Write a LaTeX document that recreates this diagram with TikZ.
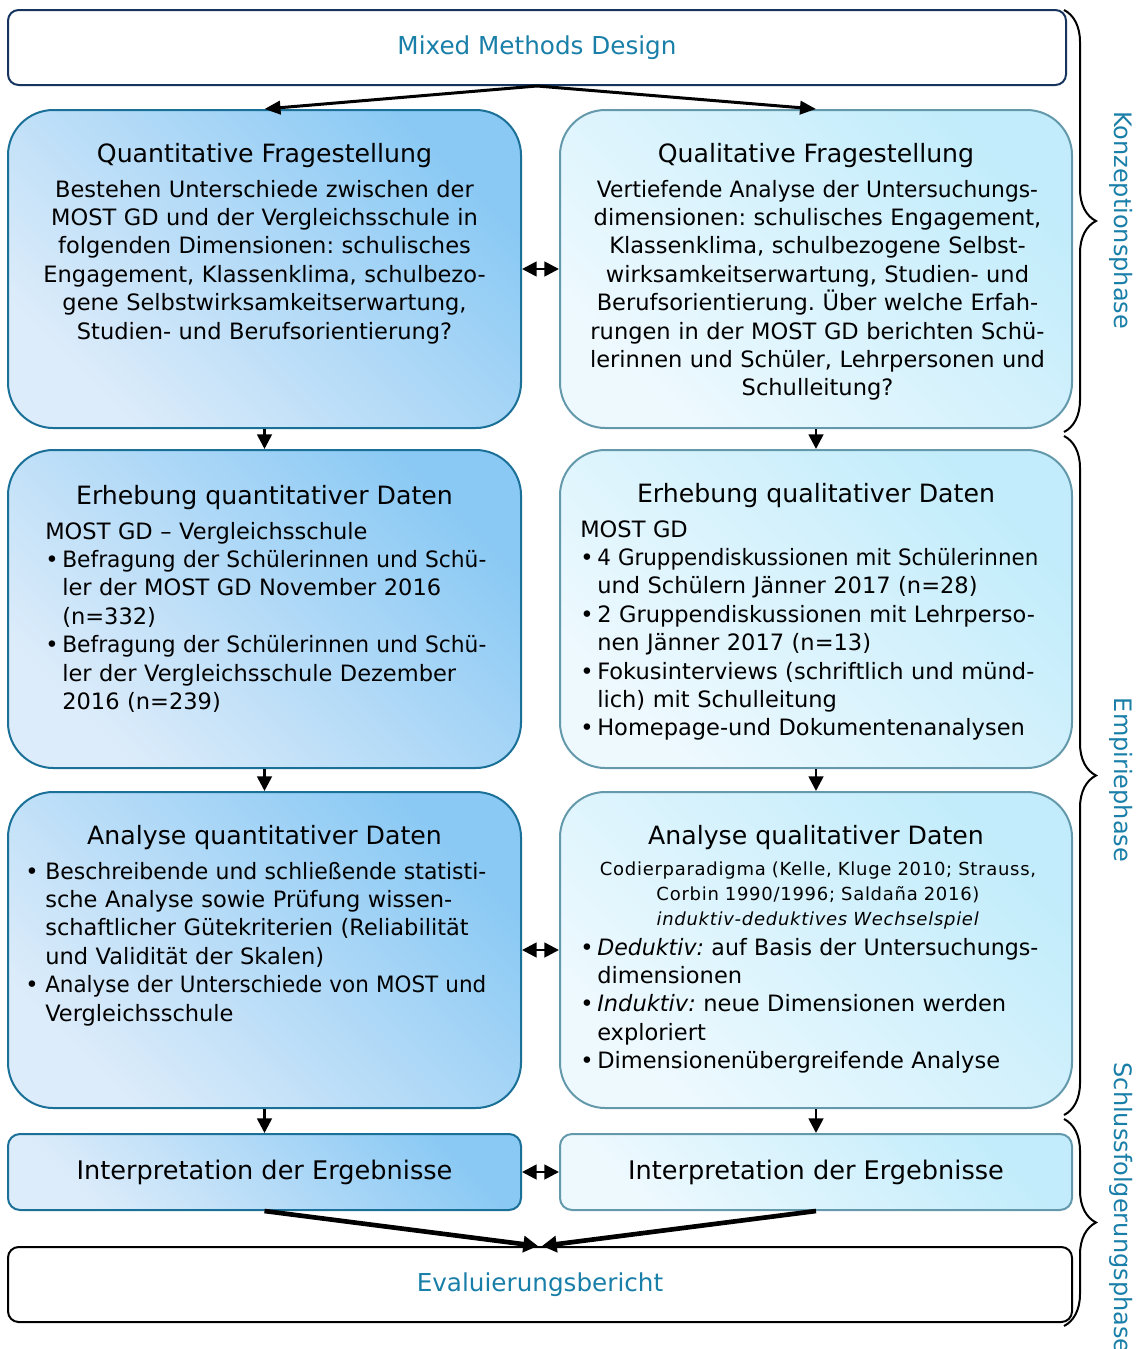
\documentclass[tikz,border=0pt]{standalone}
\usepackage{fontspec}
\usepackage{graphicx}
\setmainfont{DejaVu Sans}
\newfontfamily\spacedfont[LetterSpace=4]{DejaVu Sans}
\usetikzlibrary{arrows.meta,decorations.pathreplacing}
\definecolor{tealtxt}{RGB}{26,127,168}
\definecolor{navy}{RGB}{22,52,94}
\definecolor{qborder}{RGB}{27,112,152}
\definecolor{qdark}{RGB}{138,201,244}
\definecolor{qlight}{RGB}{221,236,250}
\definecolor{rborder}{RGB}{100,153,172}
\definecolor{rdark}{RGB}{194,236,251}
\definecolor{rlight}{RGB}{238,249,254}
\setlength\parskip{0pt}
\frenchspacing
\newsavebox\jbox
\newcommand\bitem[2]{\hangindent=#1\hangafter=1\noindent\makebox[#1][l]{\textbullet}#2\par}
\newcommand\jline[2][330.75pt]{\sbox\jbox{#2}\ifdim\wd\jbox>#1\resizebox{#1}{\ht\jbox}{\usebox\jbox}\else\makebox[#1][s]{#2}\fi}
\begin{document}
\begin{tikzpicture}[x=0.75pt,y=-0.75pt,
  qbox/.style={draw=qborder, line width=1.5pt, rounded corners=34pt, top color=qdark, bottom color=qlight, shading angle=-45, inner sep=0pt, minimum width=384.75pt},
  rbox/.style={draw=rborder, line width=1.5pt, rounded corners=34pt, top color=rdark, bottom color=rlight, shading angle=-45, inner sep=0pt, minimum width=384pt},
  tallbox/.style={minimum height=238.5pt},
  smallbox/.style={rounded corners=9pt, minimum height=57pt, font=\fontsize{19.2}{22}\selectfont},
  framebox/.style={draw, line width=1.5pt, rounded corners=8pt, minimum height=56.25pt, text=tealtxt, font=\fontsize{18.5}{22}\selectfont, inner sep=0pt},
  ttl/.style={font=\fontsize{18.9}{22}\selectfont, inner sep=0pt},
  bodyc/.style={font=\fontsize{16.9}{21.3}\selectfont, align=center, inner sep=0pt},
  bodyl/.style={font=\fontsize{16.9}{21.3}\selectfont, align=left, inner sep=0pt},
  smalltxt/.style={font=\spacedfont\fontsize{13.5}{18.75}\selectfont, align=center, inner sep=0pt},
  arr/.style={line width=2pt, -{Triangle[length=11pt,width=11pt]}},
  darr/.style={line width=2pt, {Triangle[length=11pt,width=11pt]}-{Triangle[length=11pt,width=11pt]}},
  farr/.style={line width=2.25pt, -{Triangle[length=12pt,width=10pt]}},
  barr/.style={line width=3.5pt, -{Triangle[length=11pt,width=12pt]}},
  brc/.style={decorate, decoration={brace, amplitude=24pt}, line width=1.5pt},
  phase/.style={text=tealtxt, font=\fontsize{18}{22}\selectfont, rotate=-90, inner sep=0pt}
]
\useasboundingbox (0,0) rectangle (1137,1349);

% frame boxes
\node[framebox, draw=navy, minimum width=793.5pt] (top) at (537,47.5) {Mixed Methods Design};
\node[framebox, draw=black, minimum width=798pt] (bot) at (540,1284.5) {Evaluierungsbericht};

% big boxes
\node[qbox, tallbox] (q1) at (264.5,269) {};
\node[rbox, tallbox] (r1) at (816,269) {};
\node[qbox, tallbox] (q2) at (264.5,609) {};
\node[rbox, tallbox] (r2) at (816,609) {};
\node[qbox, minimum height=237pt] (q3) at (264.5,950) {};
\node[rbox, minimum height=237pt] (r3) at (816,950) {};
\node[qbox, smallbox] (q4) at (264.5,1172) {Interpretation der Ergebnisse};
\node[rbox, smallbox] (r4) at (816,1172) {Interpretation der Ergebnisse};

% row 1 texts
\node[ttl, anchor=base] (q1t) at (264.5,162) {Quantitative Fragestellung};
\node[bodyc, anchor=base, text width=372pt] (q1b) at (264.5,197) {Bestehen Unterschiede zwischen der\\MOST GD und der Vergleichsschule in\\folgenden Dimensionen: schulisches\\Engagement, Klassenklima, schulbezo-\\gene Selbstwirksamkeitserwartung,\\Studien- und Berufsorientierung?};
\node[ttl, anchor=base] (r1t) at (816,162) {Qualitative Fragestellung};
\node[bodyc, anchor=base, text width=372pt] (r1b) at (817.5,197) {\jline{Vertiefende Analyse der Untersuchungs-}\\dimensionen: schulisches Engagement,\\Klassenklima, schulbezogene Selbst-\\wirksamkeitserwartung, Studien- und\\Berufsorientierung. Über welche Erfah-\\rungen in der MOST GD berichten Schü-\\lerinnen und Schüler, Lehrpersonen und\\Schulleitung?};

% row 2 texts
\node[ttl, anchor=base] (q2t) at (264.5,504) {Erhebung quantitativer Daten};
\node[bodyl, anchor=base west, text width=360pt] (q2b) at (45,539) {MOST GD – Vergleichsschule\par
\bitem{12.75pt}{\jline[318pt]{Befragung der Schülerinnen und Schü-}\newline ler der MOST GD November 2016\newline (n=332)}
\bitem{12.75pt}{\jline[318pt]{Befragung der Schülerinnen und Schü-}\newline ler der Vergleichsschule Dezember\newline 2016 (n=239)}};
\node[ttl, anchor=base] (r2t) at (816,502) {Erhebung qualitativer Daten};
\node[bodyl, anchor=base west, text width=360pt] (r2b) at (580,537) {MOST GD\par
\bitem{12.75pt}{\jline{4 Gruppendiskussionen mit Schülerinnen}\newline und Schülern Jänner 2017 (n=28)}
\bitem{12.75pt}{\jline{2 Gruppendiskussionen mit Lehrperso-}\newline nen Jänner 2017 (n=13)}
\bitem{12.75pt}{\jline{Fokusinterviews (schriftlich und münd-}\newline lich) mit Schulleitung}
\bitem{12.75pt}{Homepage-und Dokumentenanalysen}};

% row 3 texts
\node[ttl, anchor=base] (q3t) at (264.5,844) {Analyse quantitativer Daten};
\node[bodyl, anchor=base west, text width=360pt] (q3b) at (25,879) {\bitem{15pt}{\jline{Beschreibende und schließende statisti-}\newline \jline{sche Analyse sowie Prüfung wissen-}\newline \jline{schaftlicher Gütekriterien (Reliabilität}\newline und Validität der Skalen)}
\bitem{15pt}{\jline{Analyse der Unterschiede von MOST und}\newline Vergleichsschule}};
\node[ttl, anchor=base] (r3t) at (816,844) {Analyse qualitativer Daten};
\node[smalltxt, anchor=base, text width=360pt] (r3s) at (818,875) {Codierparadigma (Kelle, Kluge 2010; Strauss,\\Corbin 1990/1996; Saldaña 2016)\\\textit{induktiv-deduktives Wechselspiel}};
\node[bodyl, anchor=base west, text width=360pt] (r3b) at (580,955) {\bitem{12.75pt}{\jline{\textit{Deduktiv:} auf Basis der Untersuchungs-}\newline dimensionen}
\bitem{12.75pt}{\jline{\textit{Induktiv:} neue Dimensionen werden}\newline exploriert}
\bitem{12.75pt}{Dimensionenübergreifende Analyse}};

% connectors
\draw[farr] (top.south) -- (q1.north);
\draw[farr] (top.south) -- (r1.north);
\draw[arr] (q1.south) -- (q2.north);
\draw[arr] (r1.south) -- (r2.north);
\draw[arr] (q2.south) -- (q3.north);
\draw[arr] (r2.south) -- (r3.north);
\draw[arr] (q3.south) -- (q4.north);
\draw[arr] (r3.south) -- (r4.north);
\draw[darr] (q1.east) -- (r1.west);
\draw[darr] (q3.east) -- (r3.west);
\draw[darr] (q4.east) -- (r4.west);
\draw[barr] (q4.south) -- ([xshift=-1.5pt]bot.north);
\draw[barr] (r4.south) -- ([xshift=1.5pt]bot.north);

% braces
\coordinate (b1a) at (1064,10);
\coordinate (b1b) at (1064,432);
\coordinate (b2a) at (1064,436);
\coordinate (b2b) at (1064,1115);
\coordinate (b3a) at (1064,1119);
\coordinate (b3b) at (1064,1326);
\draw[brc] (b1a) -- (b1b);
\draw[brc] (b2a) -- (b2b);
\draw[brc] (b3a) -- (b3b);
\node[phase] (p1) at (1121,220) {Konzeptionsphase};
\node[phase] (p2) at (1121,780) {Empiriephase};
\node[phase] (p3) at (1121,1208) {Schlussfolgerungsphase};
\end{tikzpicture}
\end{document}
